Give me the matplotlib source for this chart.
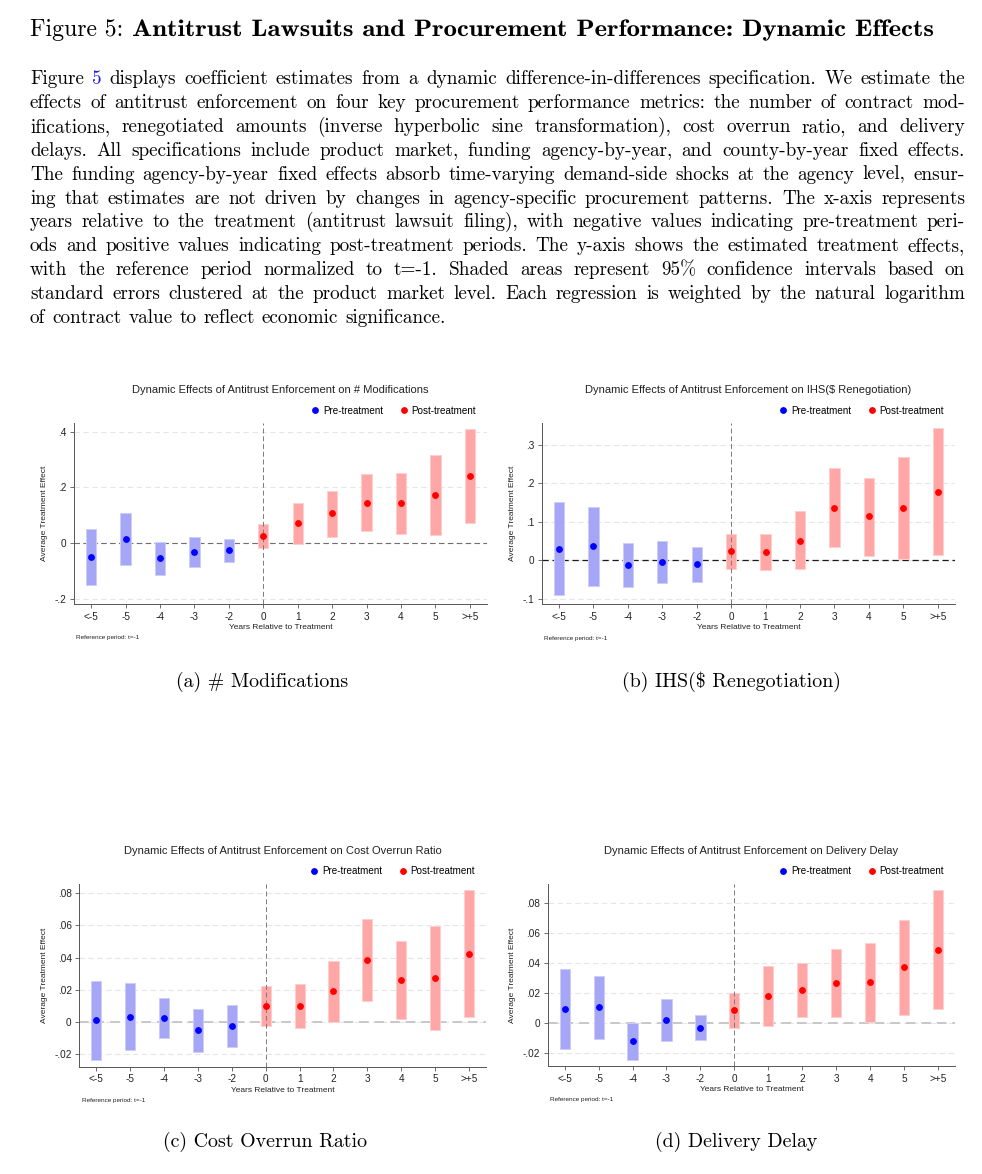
import matplotlib
matplotlib.use("Agg")
import matplotlib.pyplot as plt
from matplotlib.lines import Line2D
from matplotlib.textpath import TextPath
from matplotlib.patches import PathPatch
from matplotlib.font_manager import FontProperties
from matplotlib.transforms import Affine2D

# ---- data ----
periods = ["<-5", "-5", "-4", "-3", "-2", "0", "1", "2", "3", "4", "5", ">+5"]
n_pre = 5  # first five periods are pre-treatment

mods_est = [-0.049, 0.016, -0.053, -0.031, -0.025, 0.026, 0.073, 0.107, 0.146, 0.144, 0.174, 0.242]
mods_lo = [-0.149, -0.078, -0.113, -0.085, -0.066, -0.018, -0.002, 0.023, 0.044, 0.032, 0.030, 0.073]
mods_hi = [0.050, 0.107, 0.005, 0.022, 0.016, 0.068, 0.146, 0.189, 0.247, 0.253, 0.316, 0.411]

reneg_est = [0.030, 0.037, -0.013, -0.004, -0.011, 0.023, 0.021, 0.051, 0.137, 0.115, 0.135, 0.178]
reneg_lo = [-0.091, -0.067, -0.071, -0.059, -0.057, -0.022, -0.026, -0.024, 0.033, 0.011, 0.002, 0.014]
reneg_hi = [0.151, 0.138, 0.045, 0.050, 0.035, 0.068, 0.067, 0.127, 0.239, 0.215, 0.268, 0.343]

cost_est = [0.0010, 0.0033, 0.0025, -0.0052, -0.0023, 0.0101, 0.0101, 0.0193, 0.0383, 0.0261, 0.0275, 0.0424]
cost_lo = [-0.0238, -0.0176, -0.0101, -0.0186, -0.0153, -0.0025, -0.0035, 0.0002, 0.0128, 0.0017, -0.0052, 0.0029]
cost_hi = [0.0257, 0.0240, 0.0151, 0.0079, 0.0108, 0.0226, 0.0238, 0.0381, 0.0638, 0.0501, 0.0596, 0.0818]

delay_est = [0.0093, 0.0106, -0.0119, 0.0024, -0.0031, 0.0088, 0.0181, 0.0221, 0.0265, 0.0274, 0.0371, 0.0488]
delay_lo = [-0.0170, -0.0106, -0.0243, -0.0119, -0.0110, -0.0031, -0.0018, 0.0044, 0.0040, 0.0009, 0.0053, 0.0093]
delay_hi = [0.0360, 0.0313, 0.0004, 0.0163, 0.0055, 0.0203, 0.0382, 0.0397, 0.0490, 0.0534, 0.0687, 0.0881]

mods_yticks = [-0.2, 0, 0.2, 0.4]
mods_ylabels = ["-.2", "0", ".2", ".4"]
reneg_yticks = [-0.1, 0, 0.1, 0.2, 0.3]
reneg_ylabels = ["-.1", "0", ".1", ".2", ".3"]
small_yticks = [-0.02, 0, 0.02, 0.04, 0.06, 0.08]
small_ylabels = ["-.02", "0", ".02", ".04", ".06", ".08"]

panel_titles = [
    "Dynamic Effects of Antitrust Enforcement on # Modifications",
    "Dynamic Effects of Antitrust Enforcement on IHS($ Renegotiation)",
    "Dynamic Effects of Antitrust Enforcement on Cost Overrun Ratio",
    "Dynamic Effects of Antitrust Enforcement on Delivery Delay",
]
captions = ["(a) # Modifications", "(b) IHS($ Renegotiation)",
            "(c) Cost Overrun Ratio", "(d) Delivery Delay"]

title_regular = "Figure 5:"
title_bold = "Antitrust Lawsuits and Procurement Performance: Dynamic Effects"
para_lines = [
    "Figure 5 displays coefficient estimates from a dynamic difference-in-differences specification. We estimate the",
    "effects of antitrust enforcement on four key procurement performance metrics: the number of contract mod-",
    "ifications, renegotiated amounts (inverse hyperbolic sine transformation), cost overrun ratio, and delivery",
    "delays. All specifications include product market, funding agency-by-year, and county-by-year fixed effects.",
    "The funding agency-by-year fixed effects absorb time-varying demand-side shocks at the agency level, ensur-",
    "ing that estimates are not driven by changes in agency-specific procurement patterns. The x-axis represents",
    "years relative to the treatment (antitrust lawsuit filing), with negative values indicating pre-treatment peri-",
    "ods and positive values indicating post-treatment periods. The y-axis shows the estimated treatment effects,",
    "with the reference period normalized to t=-1. Shaded areas represent 95% confidence intervals based on",
    "standard errors clustered at the product market level. Each regression is weighted by the natural logarithm",
    "of contract value to reflect economic significance.",
]

# ---- page layout (pixels) ----
W, H = 982, 1174
SERIF = ["cmr10", "DejaVu Serif"]
SANS = ["Liberation Sans", "DejaVu Sans"]


def fx(x):
    return x / W


def fy(y):
    return 1 - y / H


fig = plt.figure(figsize=(W / 100, H / 100), dpi=100)
renderer = fig.canvas.get_renderer()
px_tf = Affine2D().scale(1 / W, 1 / H) + fig.transFigure


def text_width(s, family, size):
    t = fig.text(0, 0, s, family=family, size=size)
    w = t.get_window_extent(renderer).width
    t.remove()
    return w


# title: regular part sized by width, bold part stretched like cmbx
tsize = 14 * 93 / text_width(title_regular, SERIF, 14)
fig.text(fx(30), fy(36), title_regular, family=SERIF, size=tsize, va="baseline")
tp = TextPath((0, 0), title_bold, size=tsize * 100 / 72, prop=FontProperties(family="cmb10"))
ext = tp.get_extents()
sx = (933 - 133) / ext.width
fig.add_artist(PathPatch(tp, lw=0, color="black",
                         transform=Affine2D().scale(sx, 1).translate(133 - ext.x0 * sx, H - 36) + px_tf))

# justified paragraph; font size chosen so lines fit with a bit of stretch
left, right = 30, 965
base = 10.0
ratios = []
for line in para_lines[:-1]:
    words = line.split(" ")
    nat = sum(text_width(w_, SERIF, base) for w_ in words) + (len(words) - 1) * 0.333 * base * 100 / 72
    ratios.append((right - left) / nat)
psize = 0.965 * base * sum(ratios) / len(ratios)
for i, line in enumerate(para_lines):
    y = 84 + i * 23.9
    words = line.split(" ")
    widths = [text_width(w_, SERIF, psize) for w_ in words]
    if i == len(para_lines) - 1:
        space = 0.36 * psize * 100 / 72
    else:
        space = (right - left - sum(widths)) / (len(words) - 1)
    x = left
    for w_, wd in zip(words, widths):
        col = "#1a1aff" if (i == 0 and w_ == "5") else "black"
        fig.text(fx(x), fy(y), w_, family=SERIF, size=psize, va="baseline", color=col)
        x += wd + space

csize = 12 * 173 / text_width(captions[0], SERIF, 12)

# ---- the four Stata-style panels ----
panels = [
    dict(box=(74, 423, 487, 604), est=mods_est, lo=mods_lo, hi=mods_hi,
         yt=mods_yticks, yl=mods_ylabels, ylim=(-0.2175, 0.431),
         zero=dict(color="#707070", lw=0.8), ylab_dx=29, cap=(262, 682)),
    dict(box=(541.7, 423, 955, 604.3), est=reneg_est, lo=reneg_lo, hi=reneg_hi,
         yt=reneg_yticks, yl=reneg_ylabels, ylim=(-0.115, 0.357),
         zero=dict(color="#1a1a1a", lw=0.9), ylab_dx=29, cap=(731, 682)),
    dict(box=(79.3, 884, 486, 1066.7), est=cost_est, lo=cost_lo, hi=cost_hi,
         yt=small_yticks, yl=small_ylabels, ylim=(-0.0277, 0.0857),
         zero=dict(color="#c8c8c8", lw=1.4), ylab_dx=35, cap=(265, 1142)),
    dict(box=(547.7, 884, 955, 1066), est=delay_est, lo=delay_lo, hi=delay_hi,
         yt=small_yticks, yl=small_ylabels, ylim=(-0.0283, 0.0923),
         zero=dict(color="#c8c8c8", lw=1.4), ylab_dx=35, cap=(736, 1142)),
]

xs = list(range(len(periods)))
pre_x, post_x = xs[:n_pre], xs[n_pre:]

for k, p in enumerate(panels):
    x0, y0, x1, y1 = p["box"]
    ax = fig.add_axes([fx(x0), fy(y1), (x1 - x0) / W, (y1 - y0) / H])
    est, lo, hi = p["est"], p["lo"], p["hi"]

    ax.bar(pre_x, [h - l for h, l in zip(hi[:n_pre], lo[:n_pre])], bottom=lo[:n_pre],
           width=0.3, color="#a6a6f7", edgecolor="#cdcdfb", linewidth=0.7, zorder=2)
    ax.bar(post_x, [h - l for h, l in zip(hi[n_pre:], lo[n_pre:])], bottom=lo[n_pre:],
           width=0.3, color="#ffa6a6", edgecolor="#ffcfcf", linewidth=0.7, zorder=2)
    ax.plot(pre_x, est[:n_pre], "o", color="#0000ff", ms=3.9, zorder=4)
    ax.plot(post_x, est[n_pre:], "o", color="#ff0000", ms=3.9, zorder=4)

    ax.axhline(0, ls=(0, (5, 3)), zorder=1.5, **p["zero"])
    ax.axvline(periods.index("0"), color="#7a7a7a", lw=0.7, ls=(0, (5, 3)), zorder=2.5)

    ax.set_xlim(-0.5, len(periods) - 0.5)
    ax.set_ylim(*p["ylim"])
    ax.set_xticks(xs)
    ax.set_xticklabels(periods, family=SANS, fontsize=7.2)
    ax.set_yticks(p["yt"])
    ax.set_yticklabels(p["yl"], family=SANS, fontsize=7.2)
    ax.yaxis.grid(True, color="#e6e6e6", lw=0.8, ls=(0, (5, 3)), zorder=0)
    ax.set_axisbelow(True)
    for s in ["top", "right"]:
        ax.spines[s].set_visible(False)
    for s in ["left", "bottom"]:
        ax.spines[s].set_color("#555555")
        ax.spines[s].set_linewidth(0.7)
    ax.tick_params(direction="out", length=3, width=0.6, color="#555555", pad=2.5,
                   labelcolor="#222222")

    cx = (x0 + x1) / 2
    fig.text(fx(cx), fy(y0 - 33), panel_titles[k], family=SANS, size=8.0,
             ha="center", va="center", color="#222222")
    fig.text(fx(cx), fy(y1 + 23.5), "Years Relative to Treatment", family=SANS,
             size=6.0, ha="center", va="center", color="#222222")
    fig.text(fx(x0 - p["ylab_dx"]), fy((y0 + y1) / 2), "Average Treatment Effect",
             family=SANS, size=6.0, rotation=90, ha="center", va="center", color="#222222")
    fig.text(fx(x0 + 2.5), fy(y1 + 34), "Reference period: t=-1", family=SANS,
             size=4.6, ha="left", va="center", color="#222222")

    handles = [Line2D([], [], marker="o", ls="none", color="#0000ff", ms=3.9),
               Line2D([], [], marker="o", ls="none", color="#ff0000", ms=3.9)]
    ax.legend(handles, ["Pre-treatment", "Post-treatment"], ncol=2, frameon=False,
              loc="center right", bbox_to_anchor=(fx(x1 - 11), fy(y0 - 12.5)),
              bbox_transform=fig.transFigure, prop=dict(family=SANS, size=7.1),
              handlelength=0.8, handletextpad=0.4, columnspacing=1.7,
              borderpad=0, borderaxespad=0)

    cxp, cyp = p["cap"]
    fig.text(fx(cxp), fy(cyp), captions[k], family=SERIF, size=csize,
             ha="center", va="center")

fig.savefig("out.png", dpi=100, facecolor="white")
